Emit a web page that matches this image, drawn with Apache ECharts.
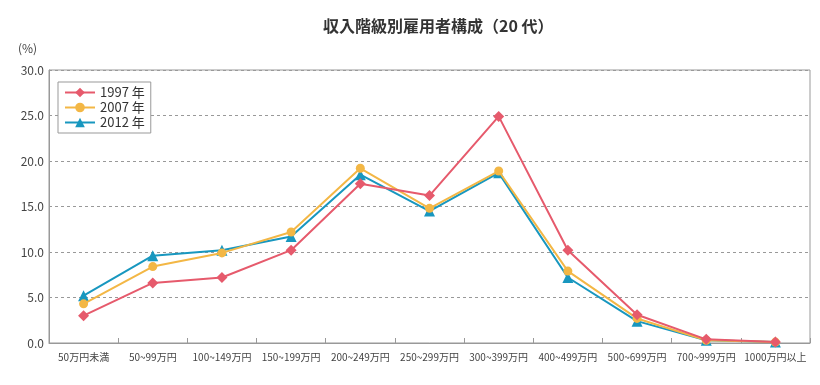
<!DOCTYPE html>
<html><head><meta charset="utf-8">
<script src="https://cdn.jsdelivr.net/npm/echarts@6/dist/echarts.min.js"></script>
<style>html,body{margin:0;padding:0;background:#fff}#c{width:820px;height:385px}</style>
</head><body><div id="c"></div>
<script>
const categories = ['50万円未満','50~99万円','100~149万円','150~199万円','200~249万円','250~299万円','300~399万円','400~499万円','500~699万円','700~999万円','1000万円以上'];
const s1997 = [3.0, 6.6, 7.2, 10.2, 17.5, 16.2, 24.9, 10.2, 3.1, 0.4, 0.1];
const s2007 = [4.3, 8.4, 9.9, 12.2, 19.2, 14.8, 18.9, 7.9, 2.7, 0.3, 0.1];
const s2012 = [5.2, 9.6, 10.2, 11.7, 18.5, 14.5, 18.7, 7.2, 2.4, 0.3, 0.1];
const seriesNames = ['1997 年','2007 年','2012 年'];
const yTicks = [0,5,10,15,20,25,30];

const font = '"Noto Sans CJK JP", "Noto Sans", sans-serif';
const colors = ['#e65a6c','#f3b745','#1897bf'];
const symbols = ['diamond','circle','triangle'];
const sizes = [11,9,11];
const data = [s1997, s2007, s2012];

const chart = echarts.init(document.getElementById('c'));
chart.setOption({
  animation:false,
  textStyle:{fontFamily:font},
  title:{text:'収入階級別雇用者構成（20 代）',left:318,top:13,
    textStyle:{fontSize:16,fontWeight:'bold',color:'#333',fontFamily:font}},
  graphic:[{type:'text',left:18,top:42,style:{text:'(%)',fontSize:12,fill:'#444',fontFamily:font}}],
  legend:{
    orient:'vertical',left:58,top:82,itemWidth:30,itemHeight:12,itemGap:2,
    padding:[4,6,4,6],
    backgroundColor:'#fff',borderColor:'#999',borderWidth:1,borderRadius:0,
    textStyle:{fontSize:13,color:'#333',fontFamily:font},
    data:seriesNames
  },
  grid:{left:49,right:10,top:70,bottom:42,show:true,borderColor:'#999',borderWidth:1,backgroundColor:'transparent'},
  xAxis:{type:'category',data:categories,boundaryGap:true,
    axisLine:{lineStyle:{color:'#999'}},
    axisTick:{show:true,inside:true,length:5,lineStyle:{color:'#999'}},
    axisLabel:{fontSize:10,color:'#444',margin:9,interval:0,fontFamily:font}},
  yAxis:{type:'value',min:yTicks[0],max:yTicks[yTicks.length-1],interval:5,
    axisLine:{show:true,lineStyle:{color:'#999'}},axisTick:{show:false},
    axisLabel:{fontSize:12,color:'#444',margin:5,formatter:v=>v.toFixed(1),fontFamily:font},
    splitLine:{show:true,lineStyle:{color:'#999',type:[3,3],width:1}}},
  series:data.map((d,i)=>({
    name:seriesNames[i],type:'line',data:d,symbol:symbols[i],symbolSize:sizes[i],
    lineStyle:{color:colors[i],width:2},itemStyle:{color:colors[i]},z:10-i
  }))
});
</script></body></html>
